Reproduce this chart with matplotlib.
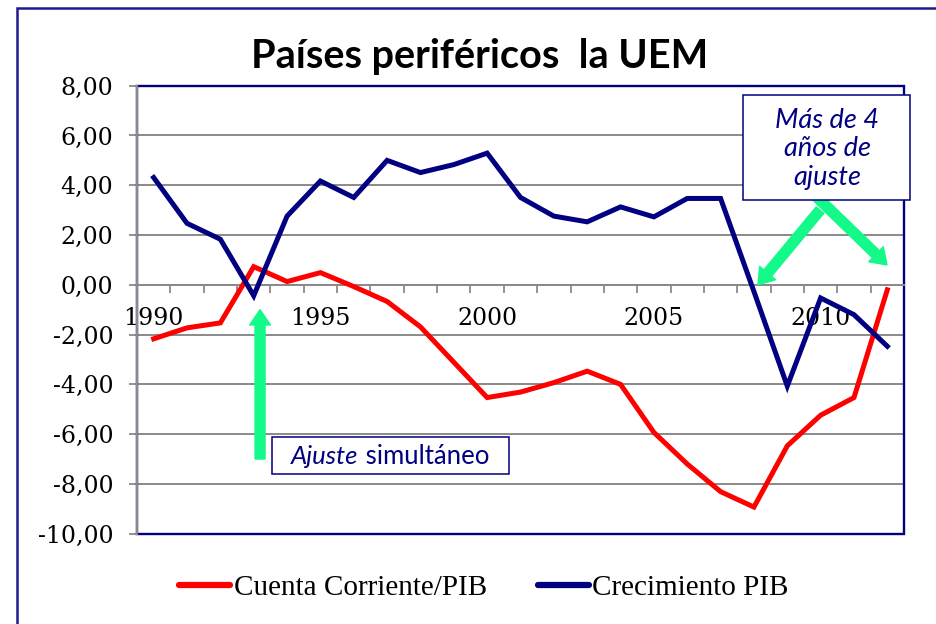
import matplotlib
matplotlib.use("Agg")
import matplotlib.pyplot as plt
from matplotlib.patches import Rectangle
from matplotlib.ticker import FixedLocator, FuncFormatter, NullFormatter
from matplotlib.offsetbox import TextArea, HPacker, AnnotationBbox

years = list(range(1990, 2013))
cuenta_corriente = [-2.17, -1.73, -1.53, 0.73, 0.13, 0.49, -0.07, -0.67, -1.69, -3.11,
                    -4.53, -4.31, -3.93, -3.47, -4.00, -5.93, -7.20, -8.31, -8.93, -6.47,
                    -5.24, -4.53, -0.20]
crecimiento_pib = [4.31, 2.47, 1.83, -0.44, 2.76, 4.17, 3.51, 5.00, 4.51, 4.83,
                   5.29, 3.51, 2.76, 2.53, 3.13, 2.73, 3.47, 3.47, -0.27, -4.07,
                   -0.53, -1.20, -2.47]
label_years = [1990, 1995, 2000, 2005, 2010]
title = "Países periféricos  la UEM"
series_names = ["Cuenta Corriente/PIB", "Crecimiento PIB"]

NAVY = "#000080"
RED = "#FF0000"
GRID = "#8A8A8A"
GREEN = "#14FA8A"
FRAME = "#1C1C8C"

fig = plt.figure(figsize=(9.36, 6.24), dpi=100)
ax = fig.add_axes([137/936, 1 - 533.7/624, (904 - 137)/936, (533.7 - 85.7)/624])

x = list(range(len(years)))
ax.plot(x, cuenta_corriente, color=RED, lw=3.6, solid_joinstyle="miter", zorder=3,
        label=series_names[0])
ax.plot(x, crecimiento_pib, color=NAVY, lw=3.6, solid_joinstyle="miter", zorder=3,
        label=series_names[1])

ax.set_xlim(-0.5, len(years) - 0.5)
ax.set_ylim(-10, 8)

# y axis
ax.set_yticks([-10, -8, -6, -4, -2, 0, 2, 4, 6, 8])
ax.yaxis.set_major_formatter(FuncFormatter(lambda v, p: f"{v:.2f}".replace(".", ",")))
ax.tick_params(axis="y", direction="out", length=6, width=1.3, color=GRID, pad=11,
               labelsize=17)
ax.grid(axis="y", color=GRID, lw=1.4, zorder=1)
ax.set_axisbelow(True)

# x axis at zero
ax.spines["bottom"].set_position(("data", 0))
ax.spines["bottom"].set_color(GRID)
ax.spines["bottom"].set_linewidth(1.4)
ax.spines["left"].set_color(GRID)
ax.spines["left"].set_linewidth(1.6)
ax.spines["left"].set_zorder(2.6)
ax.spines["top"].set_visible(False)
ax.spines["right"].set_visible(False)
ax.add_patch(Rectangle((0, 0), 1, 1, transform=ax.transAxes, fill=False,
                       edgecolor=NAVY, lw=1.7, zorder=2.4, clip_on=False))

ax.xaxis.set_major_locator(FixedLocator([i + 0.5 for i in range(len(years) - 1)]))
ax.xaxis.set_major_formatter(NullFormatter())
ax.xaxis.set_minor_locator(FixedLocator([years.index(y) for y in label_years]))
ax.xaxis.set_minor_formatter(FuncFormatter(lambda v, p: str(years[int(round(v))])))
ax.tick_params(axis="x", which="major", direction="out", length=6, width=1.3, color=GRID)
ax.tick_params(axis="x", which="minor", length=0, pad=16, labelsize=17)

for lab in ax.get_xticklabels(minor=True) + ax.get_yticklabels():
    lab.set_fontfamily("DejaVu Serif")

# title
fig.text(0.512, 0.91, title, ha="center", va="center", fontsize=28.5,
         fontweight="bold", family="Lato")

# arrows
arrow_kw = dict(arrowstyle="simple,head_width=0.75,head_length=0.55,tail_width=0.36",
                color=GREEN, shrinkA=0, shrinkB=0, mutation_scale=20)
ax.annotate("", xy=(3.19, -1.0), xytext=(3.19, -7.0), arrowprops=arrow_kw, zorder=5)
ax.annotate("", xy=(18.12, 0.0), xytext=(19.98, 3.0), arrowprops=arrow_kw, zorder=5)
ax.annotate("", xy=(21.99, 0.8), xytext=(19.83, 3.6), arrowprops=arrow_kw, zorder=5)

# "Ajuste simultáneo" box
fig.patches.append(Rectangle((271.7/936, 1 - 474/624), (509 - 271.7)/936, (474 - 437)/624,
                             transform=fig.transFigure, facecolor="white",
                             edgecolor=NAVY, lw=1.1, zorder=6))
ta1 = TextArea("Ajuste", textprops=dict(fontsize=18.5, style="italic", family="Lato",
                                         color=NAVY))
ta2 = TextArea(" simultáneo", textprops=dict(fontsize=18.5, family="Lato", color=NAVY))
pack = HPacker(children=[ta1, ta2], align="baseline", pad=0, sep=0)
ab = AnnotationBbox(pack, (390/936, 1 - 456/624), xycoords="figure fraction",
                    frameon=False, box_alignment=(0.5, 0.5), zorder=8)
fig.add_artist(ab)

# "Más de 4 años de ajuste" box
fig.patches.append(Rectangle((743/936, 1 - 200/624), (910 - 743)/936, (200 - 95)/624,
                             transform=fig.transFigure, facecolor="white",
                             edgecolor=NAVY, lw=1.1, zorder=6))
fig.text(827/936, 1 - 149/624, "Más de 4\naños de\najuste", ha="center", va="center",
         fontsize=19.5, style="italic", family="Lato", color=NAVY, linespacing=1.2,
         zorder=8)

# outer frame
fig.patches.append(Rectangle((17/936, -0.2), 1.2, 1.2 - 8/624, transform=fig.transFigure,
                             fill=False, edgecolor=FRAME, lw=1.8, zorder=0))

leg = fig.legend(loc="center", bbox_to_anchor=(0.517, 0.0577), ncol=2, frameon=False,
                 prop=dict(family="Liberation Serif", size=21), handlelength=1.75,
                 handletextpad=0.12, columnspacing=1.75)
for h in leg.get_lines():
    h.set_linewidth(4.5)
    h.set_solid_capstyle("round")

fig.savefig("out.png", dpi=100)
